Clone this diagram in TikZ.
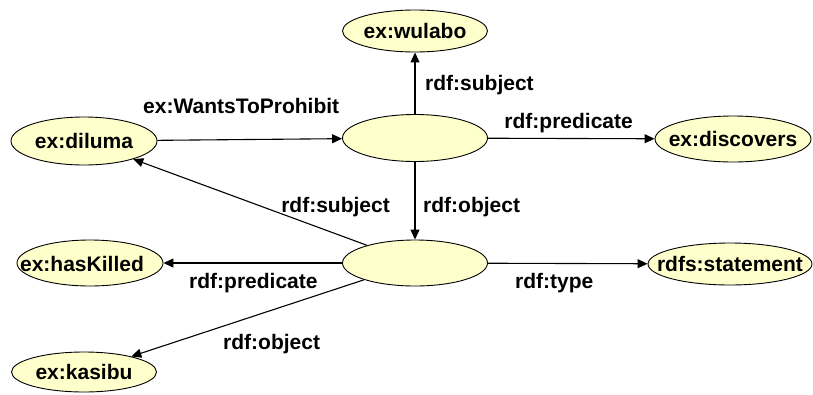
\documentclass[tikz,border=0pt]{standalone}
\usepackage{fontspec}
\setmainfont{Liberation Sans}
\usetikzlibrary{shapes.geometric,arrows.meta}
\definecolor{entfill}{HTML}{FFFFCC}
\begin{document}
\begin{tikzpicture}[x=1pt,y=-1pt,
  font=\fontsize{21}{24}\selectfont\bfseries,
  ent/.style 2 args={ellipse,draw=black,line width=0.9pt,fill=entfill,
    minimum width=#1pt,minimum height=#2pt,inner sep=0pt},
  txt/.style={inner sep=0pt},
  conn/.style={line width=1.1pt,-{Triangle[length=10pt,width=9pt]}}]
\useasboundingbox (0,0) rectangle (813,394);
% nodes
\node[ent={145}{42},label={center:ex:wulabo}] (wulabo) at (415,31) {};
\node[ent={145}{47}] (top) at (415,138) {};
\node[ent={145}{46}] (bot) at (415,263) {};
\node[ent={146}{48},label={center:ex:diluma}] (diluma) at (84,141) {};
\node[ent={156}{46},label={center:ex:discovers}] (discovers) at (733,139) {};
\node[ent={146}{46}] (haskilled) at (90,263) {};
\node[txt] (haskilledtxt) at (82,264) {ex:hasKilled};
\node[ent={164}{42},label={center:rdfs:statement}] (statement) at (730,264) {};
\node[ent={145}{40},label={center:ex:kasibu}] (kasibu) at (84,372) {};
% connectors
\draw[conn] (top) -- (wulabo);
\draw[conn] (diluma) -- (top);
\draw[conn] (top) -- (discovers);
\draw[conn] (top) -- (bot);
\draw[conn] (bot) -- (diluma);
\draw[conn] (bot) -- (haskilled);
\draw[conn] (bot) -- (statement);
\draw[conn] (bot) -- (kasibu);
% edge labels
\node[txt,anchor=base west] (l1) at (143,113) {ex:WantsToProhibit};
\node[txt,anchor=base west] (l2) at (425,90) {rdf:subject};
\node[txt,anchor=base east] (l3) at (633,128) {rdf:predicate};
\node[txt,anchor=base west] (l4) at (423,212) {rdf:object};
\node[txt,anchor=base east] (l5) at (390,212) {rdf:subject};
\node[txt,anchor=base west] (l6) at (189,288) {rdf:predicate};
\node[txt,anchor=base west] (l7) at (515,288) {rdf:type};
\node[txt,anchor=base west] (l8) at (223,349) {rdf:object};
\end{tikzpicture}
\end{document}
